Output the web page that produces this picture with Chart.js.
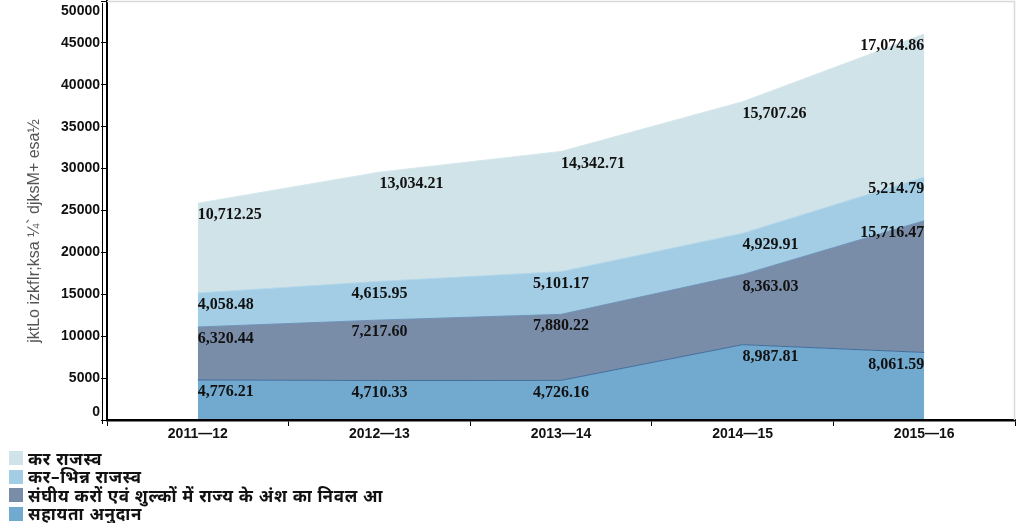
<!DOCTYPE html>
<html>
<head>
<meta charset="utf-8">
<script src="https://cdn.jsdelivr.net/npm/chart.js@4.4.0/dist/chart.umd.min.js"></script>
<style>
  html, body { margin: 0; padding: 0; background: #fff; }
  .wrap { width: 1021px; height: 448px; }
  .legend { list-style: none; margin: 0; padding: 1px 0 0 9px;
    font: bold 17px "Noto Sans", "Noto Sans Devanagari", sans-serif; letter-spacing: 0.7px; color: #111; }
  .legend li { display: flex; align-items: center; height: 18.5px; white-space: nowrap; }
  .legend .box { width: 14px; height: 14px; margin-right: 5px; flex: none; }
</style>
</head>
<body>
<div class="wrap"><canvas id="revChart" width="1021" height="448"></canvas></div>
<ul class="legend" id="revLegend"></ul>
<script>
const years = ['2011—12', '2012—13', '2013—14', '2014—15', '2015—16'];

// stacked from the bottom up
const grants       = [4776.21, 4710.33, 4726.16, 8987.81, 8061.59];
const centralShare = [6320.44, 7217.60, 7880.22, 8363.03, 15716.47];
const nonTaxRev    = [4058.48, 4615.95, 5101.17, 4929.91, 5214.79];
const taxRev       = [10712.25, 13034.21, 14342.71, 15707.26, 17074.86];

const yMax = 50000;
const yStep = 5000;
const yTitle = 'jktLo izkfIr;ksa ¼` djksM+ esa½';

const series = [
    {label: 'सहायता अनुदान', data: grants, fill: '#72a9cf', line: '#3f6d9c'},
    {label: 'संघीय करों एवं शुल्कों में राज्य के अंश का निवल आ', data: centralShare, fill: '#7a8da8', line: '#6d93bb'},
    {label: 'कर–भिन्न राजस्व', data: nonTaxRev, fill: '#a3cde4', line: '#b3d7ea'},
    {label: 'कर राजस्व', data: taxRev, fill: '#d0e3e8', line: '#d6e8ec'}
];

const fmt = v => v.toLocaleString('en-US', {minimumFractionDigits: 2, maximumFractionDigits: 2});

// where each value label sits relative to its point
function labelAlign(dsIndex, col, lastDs, lastCol) {
    if (col === 0) return 'left';
    if (col === lastCol) return 'right';
    if (col === 3) return 'left';
    return dsIndex === lastDs ? 'left' : 'center';
}

const chartExtras = {
    id: 'chartExtras',
    afterDatasetsDraw(chart) {
        const ctx = chart.ctx;
        const n = chart.data.datasets.length;
        ctx.save();
        ctx.font = 'bold 16px "Liberation Serif", serif';
        ctx.fillStyle = '#111';
        ctx.textBaseline = 'middle';
        chart.data.datasets.forEach((ds, i) => {
            const meta = chart.getDatasetMeta(i);
            meta.data.forEach((pt, j) => {
                ctx.textAlign = labelAlign(i, j, n - 1, meta.data.length - 1);
                ctx.fillText(fmt(ds.data[j]), pt.x, pt.y + 12);
            });
        });
        ctx.restore();
    },
    afterDraw(chart) {
        const {ctx, chartArea: a, scales: {y}} = chart;
        ctx.save();
        // light frame along top and right
        ctx.strokeStyle = '#d9d9d9';
        ctx.lineWidth = 1.5;
        ctx.beginPath();
        ctx.moveTo(a.left, a.top + 0.5);
        ctx.lineTo(a.right - 0.5, a.top + 0.5);
        ctx.lineTo(a.right - 0.5, a.bottom);
        ctx.stroke();
        // thin second rule beside the value axis
        ctx.strokeStyle = '#000';
        ctx.lineWidth = 1;
        ctx.beginPath();
        ctx.moveTo(a.left - 4.5, a.top + 2);
        ctx.lineTo(a.left - 4.5, a.bottom + 4);
        ctx.stroke();
        // value axis labels, held inside the plot height
        ctx.font = 'bold 14px "Liberation Sans", Arial, sans-serif';
        ctx.fillStyle = '#111';
        ctx.textAlign = 'right';
        ctx.textBaseline = 'middle';
        y.ticks.forEach(t => {
            const py = Math.min(Math.max(y.getPixelForValue(t.value), a.top + 10), a.bottom - 8);
            ctx.fillText(String(t.value), a.left - 7, py);
        });
        // axis title
        ctx.translate(35, 231);
        ctx.rotate(-Math.PI / 2);
        ctx.font = '16px "Liberation Sans", sans-serif';
        ctx.fillStyle = '#555';
        ctx.textAlign = 'center';
        ctx.fillText(yTitle, 0, 0);
        ctx.restore();
    }
};

const tickFont = {family: '"Liberation Sans", Arial, sans-serif', weight: 'bold', size: 14};

const chart = new Chart(document.getElementById('revChart'), {
    type: 'line',
    data: {
        labels: years,
        datasets: series.map((s, i) => ({
            label: s.label,
            data: s.data,
            backgroundColor: s.fill,
            borderColor: s.line,
            borderWidth: 1,
            fill: i === 0 ? 'origin' : '-1',
            tension: 0,
            pointRadius: 0
        }))
    },
    options: {
        responsive: false,
        devicePixelRatio: 1,
        animation: false,
        layout: {padding: {top: 1, right: 6, left: 0, bottom: 0}},
        plugins: {
            legend: {display: false},
            tooltip: {enabled: false}
        },
        scales: {
            x: {
                offset: true,
                grid: {offset: true, drawOnChartArea: false, tickLength: 6, color: '#000'},
                border: {color: '#000', width: 2.5, z: 1},
                ticks: {font: tickFont, color: '#111', padding: 0, maxRotation: 0},
                afterFit(s) { s.height = 28; }
            },
            y: {
                stacked: true,
                min: 0,
                max: yMax,
                ticks: {stepSize: yStep, display: false},
                grid: {drawOnChartArea: false, tickLength: 6, color: '#000'},
                border: {color: '#000', width: 2, z: 1},
                afterFit(s) {
                    s.width = 107;
                    s.paddingTop = 0;
                    s.paddingBottom = 0;
                }
            }
        }
    },
    plugins: [chartExtras]
});

// legend list, top series first
const legendEl = document.getElementById('revLegend');
chart.data.datasets.slice().reverse().forEach(ds => {
    const li = document.createElement('li');
    const box = document.createElement('span');
    box.className = 'box';
    box.style.background = ds.backgroundColor;
    li.appendChild(box);
    li.appendChild(document.createTextNode(ds.label));
    legendEl.appendChild(li);
});
</script>
</body>
</html>
